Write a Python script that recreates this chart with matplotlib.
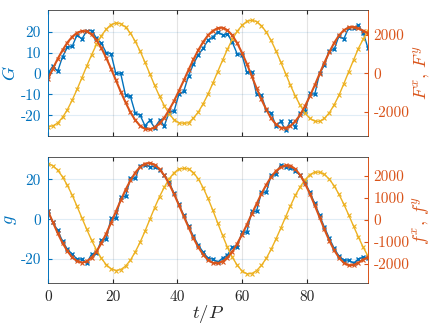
import matplotlib
matplotlib.use("Agg")
import matplotlib.pyplot as plt
import numpy as np

plt.rcParams['font.family'] = 'serif'
plt.rcParams['font.serif'] = ['cmr10', 'DejaVu Serif']
plt.rcParams['mathtext.fontset'] = 'cm'
plt.rcParams['axes.unicode_minus'] = False

# sample times t/P
t = [0, 1.5, 3, 4.5, 6, 7.5, 9, 10.5, 12, 13.5, 15, 16.5, 18, 19.5, 21, 22.5,
     24, 25.5, 27, 28.5, 30, 31.5, 33, 34.5, 36, 37.5, 39, 40.5, 42, 43.5, 45,
     46.5, 48, 49.5, 51, 52.5, 54, 55.5, 57, 58.5, 60, 61.5, 63, 64.5, 66, 67.5,
     69, 70.5, 72, 73.5, 75, 76.5, 78, 79.5, 81, 82.5, 84, 85.5, 87, 88.5, 90,
     91.5, 93, 94.5, 96, 97.5, 99]

# top panel: G (left), F^x, F^y (right)
G = [0, 3.5, 1.0, 8.0, 12.5, 13.0, 18.5, 16.5, 20.5, 20.5, 17.0, 14.5, 10.0,
     9.5, 0.0, 0.0, -10.5, -11.0, -19.0, -20.0, -25.0, -22.5, -26.0, -22.5,
     -25.0, -18.5, -18.0, -10.0, -8.5, -1.0, 4.5, 9.0, 12.0, 16.0, 17.5, 20.0,
     18.5, 19.0, 15.0, 9.5, 9.0, 0.5, 0.5, -10.0, -10.5, -17.5, -19.0, -25.0,
     -23.0, -27.0, -23.0, -25.5, -19.0, -18.0, -9.5, -10.0, 0.0, 4.0, 11.0,
     11.5, 18.0, 16.5, 22.0, 22.0, 23.0, 19.5, 12.0]
Fx = [-300, 240, 750, 1200, 1600, 1900, 2110, 2200, 2180, 2020, 1730, 1320,
      810, 250, -350, -950, -1510, -2020, -2430, -2720, -2880, -2910, -2810,
      -2600, -2300, -1890, -1430, -910, -370, 190, 720, 1210, 1630, 1980, 2210,
      2350, 2370, 2240, 1980, 1580, 1070, 500, -130, -760, -1350, -1870, -2330,
      -2650, -2820, -2840, -2730, -2490, -2150, -1700, -1180, -620, -20, 560,
      1100, 1580, 1970, 2240, 2390, 2410, 2330, 2220, 2080]
Fy = [-2760, -2730, -2580, -2290, -1890, -1390, -830, -230, 380, 960, 1500,
      1950, 2290, 2530, 2620, 2580, 2400, 2090, 1660, 1160, 580, -20, -630,
      -1190, -1680, -2110, -2400, -2570, -2590, -2570, -2320, -2010, -1580,
      -1080, -510, 90, 680, 1250, 1760, 2180, 2490, 2700, 2760, 2690, 2480,
      2150, 1710, 1180, 590, -10, -620, -1180, -1660, -2060, -2340, -2480,
      -2490, -2340, -2050, -1640, -1140, -540, 80, 690, 1290, 1780, 2210]

# bottom panel: g (left), f^x, f^y (right)
g = [4.0, -1.5, -5.5, -11.0, -15.0, -17.5, -20.0, -20.0, -22.0, -17.5, -17.0,
     -10.5, -10.0, 0.5, 0.5, 11.0, 11.5, 20.5, 20.5, 27.0, 27.5, 26.5, 26.5,
     25.0, 22.0, 18.5, 13.0, 7.5, 2.0, -3.5, -8.5, -13.0, -16.5, -19.5, -20.0,
     -21.5, -19.5, -18.0, -14.0, -14.0, -6.5, -6.5, 4.0, 4.0, 13.5, 13.5, 22.0,
     22.5, 27.5, 26.5, 26.0, 24.5, 22.0, 18.5, 13.5, 8.0, 2.0, -4.0, -9.5,
     -14.5, -18.5, -20.5, -20.5, -22.0, -20.0, -19.0, -19.5]
fx = [400, -110, -610, -1060, -1430, -1720, -1890, -1960, -1900, -1730, -1460,
      -1080, -640, -150, 370, 880, 1370, 1790, 2150, 2410, 2560, 2590, 2510,
      2310, 2020, 1630, 1170, 670, 150, -350, -840, -1260, -1590, -1840, -1970,
      -1990, -1910, -1730, -1460, -1100, -690, -230, 250, 720, 1180, 1590,
      1950, 2220, 2400, 2480, 2470, 2310, 2040, 1650, 1190, 660, 110, -440,
      -950, -1390, -1730, -1970, -2080, -2070, -1960, -1820, -1710]
fy = [2560, 2470, 2260, 1960, 1570, 1120, 610, 80, -440, -940, -1380, -1760,
      -2050, -2240, -2320, -2280, -2120, -1850, -1470, -1030, -530, 10, 550,
      1050, 1490, 1870, 2140, 2320, 2340, 2320, 2150, 1860, 1460, 970, 430,
      -150, -720, -1260, -1710, -2070, -2340, -2470, -2460, -2330, -2090,
      -1770, -1360, -890, -390, 130, 630, 1110, 1500, 1820, 2060, 2170, 2170,
      2070, 1850, 1550, 1160, 710, 220, -290, -790, -1260, -1670]

blue = '#0072BD'
red = '#D95319'
yellow = '#EDB120'
dark = '#262626'

fig = plt.figure(figsize=(4.32, 3.24), dpi=100)
ax1 = fig.add_axes([0.111, 0.580, 0.741, 0.389])
ax2 = fig.add_axes([0.111, 0.1265, 0.741, 0.389])


def setup(ax, y, fx_, fy_, ylim_l, ylim_r, yticks_l, yticks_r, lab_l, lab_r,
          show_x, lab_lx, lab_rx):
    ax.plot(t, y, '-x', color=blue, lw=1.0, ms=3, mew=1.0)
    axr = ax.twinx()
    axr.plot(t, fy_, '-x', color=yellow, lw=1.0, ms=2.5, mew=0.8)
    axr.plot(t, fx_, '-x', color=red, lw=1.5, ms=2.5, mew=0.8)
    ax.set_xlim(0, 99)
    ax.set_ylim(*ylim_l)
    axr.set_ylim(*ylim_r)
    ax.set_yticks(yticks_l)
    axr.set_yticks(yticks_r)
    ax.set_xticks([0, 20, 40, 60, 80])
    if not show_x:
        ax.set_xticklabels([])
    # grid
    for v in yticks_l:
        ax.axhline(v, color=blue, alpha=0.12, lw=0.8, zorder=0)
    for v in [20, 40, 60, 80]:
        ax.axvline(v, color=dark, alpha=0.12, lw=0.8, zorder=0)
    ax.tick_params(axis='y', colors=blue, direction='in', length=3,
                   labelsize=11, pad=5)
    axr.tick_params(axis='y', colors=red, direction='in', length=3,
                    labelsize=11, pad=4)
    ax.tick_params(axis='x', colors=dark, direction='in', length=3,
                   labelsize=11, top=True, pad=5)
    for s in ['top', 'bottom']:
        ax.spines[s].set_color(dark)
        axr.spines[s].set_color(dark)
        ax.spines[s].set_alpha(0.6)
        axr.spines[s].set_alpha(0.6)
    axr.spines['left'].set_color(blue)
    axr.spines['right'].set_color(red)
    ax.spines['left'].set_color(blue)
    ax.spines['right'].set_color(red)
    for a in (ax, axr):
        for sp in a.spines.values():
            sp.set_linewidth(0.6)
    ax.set_ylabel(lab_l, color=blue, fontsize=13)
    axr.set_ylabel(lab_r, color=red, fontsize=13)
    ax.yaxis.set_label_coords(lab_lx, 0.5)
    axr.yaxis.set_label_coords(lab_rx, 0.5)
    return axr


setup(ax1, G, Fx, Fy, (-30, 30.4), (-3257, 3288), [-20, -10, 0, 10, 20],
      [-2000, 0, 2000], '$G$', '$F^x$, $F^y$', False, -0.094, 1.14)
setup(ax2, g, fx, fy, (-32, 31.3), (-2891, 2864), [-20, 0, 20],
      [-2000, -1000, 0, 1000, 2000], '$g$', '$f^x$, $f^y$', True, -0.09, 1.135)
ax2.set_xlabel('$t/P$', fontsize=13.5, color=dark)
ax2.xaxis.set_label_coords(0.5, -0.16)

fig.savefig('out.png', dpi=100)
